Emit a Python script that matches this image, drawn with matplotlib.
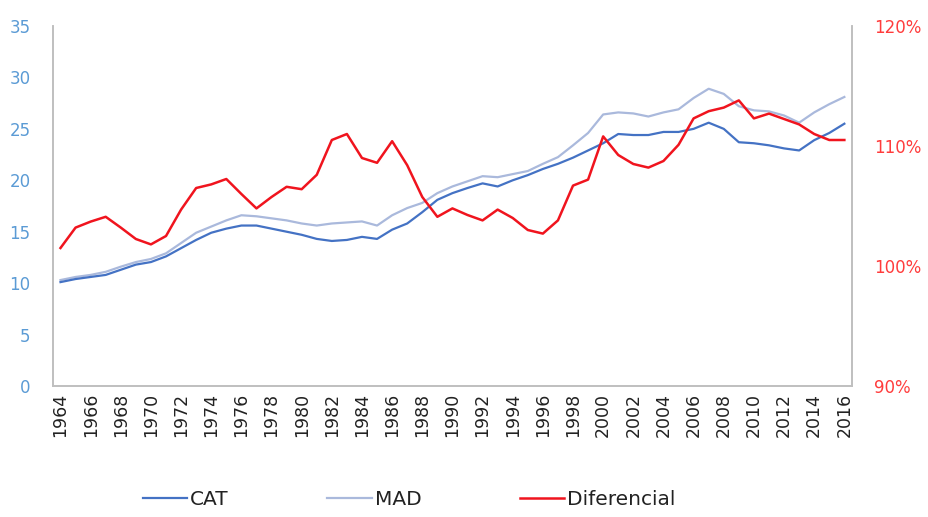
import numpy as np
import matplotlib
matplotlib.use("Agg")
import matplotlib.pyplot as plt
from matplotlib.ticker import FuncFormatter

# Data
years = list(range(1964, 2017))

cat = [10.1, 10.4, 10.6, 10.8, 11.3, 11.8, 12.05, 12.6, 13.4, 14.2,
       14.9, 15.3, 15.6, 15.6, 15.3, 15.0, 14.7, 14.3, 14.1, 14.2,
       14.5, 14.3, 15.2, 15.8, 16.9, 18.1, 18.75, 19.25, 19.7, 19.4,
       20.0, 20.5, 21.1, 21.6, 22.2, 22.9, 23.6, 24.5, 24.4, 24.4,
       24.7, 24.7, 25.0, 25.6, 25.0, 23.7, 23.6, 23.4, 23.1, 22.9,
       23.9, 24.6, 25.5]

mad = [10.3, 10.6, 10.8, 11.1, 11.6, 12.05, 12.35, 12.9, 13.9, 14.9,
       15.5, 16.1, 16.6, 16.5, 16.3, 16.1, 15.8, 15.6, 15.8, 15.9,
       16.0, 15.6, 16.6, 17.3, 17.8, 18.75, 19.4, 19.9, 20.4, 20.3,
       20.6, 20.9, 21.6, 22.25, 23.4, 24.6, 26.4, 26.6, 26.5, 26.2,
       26.6, 26.9, 28.0, 28.9, 28.4, 27.2, 26.8, 26.7, 26.3, 25.6,
       26.6, 27.4, 28.1]

# differential in %
dif = [101.5, 103.2, 103.7, 104.1, 103.2, 102.25, 101.8, 102.5, 104.7, 106.5,
       106.8, 107.25, 106.0, 104.8, 105.75, 106.6, 106.4, 107.6, 110.5, 111.0,
       109.0, 108.6, 110.4, 108.4, 105.75, 104.1, 104.8, 104.25, 103.8, 104.7,
       104.0, 103.0, 102.7, 103.8, 106.7, 107.2, 110.8, 109.25, 108.5, 108.2,
       108.75, 110.1, 112.3, 112.9, 113.2, 113.8, 112.3, 112.7, 112.25, 111.8,
       111.0, 110.5, 110.5]

c_cat = "#4472c4"
c_mad = "#aab9dc"
c_dif = "#f0141e"
c_left = "#5b9bd5"
c_right = "#ff3c3c"
c_spine = "#bfbfbf"

fig = plt.figure(figsize=(9.29, 5.17), dpi=100)
ax = fig.add_axes([0.057, 0.2534, 0.86, 0.6963])

ax.plot(years, mad, color=c_mad, lw=1.6, label="MAD")
ax.plot(years, cat, color=c_cat, lw=1.6, label="CAT")
ax.set_ylim(0, 35)
ax.set_yticks(range(0, 36, 5))
ax.set_xlim(1963.5, 2016.5)
ax.set_xticks(years[::2])
ax.set_xticklabels([str(y) for y in years[::2]], rotation=90)

ax2 = ax.twinx()
ax2.plot(years, dif, color=c_dif, lw=1.8, label="Diferencial")
ax2.set_ylim(90, 120)
ax2.set_yticks([90, 100, 110, 120])
ax2.yaxis.set_major_formatter(FuncFormatter(lambda v, p: f"{v:.0f}%"))

for a in (ax, ax2):
    a.spines["top"].set_visible(False)
    for s in ("left", "right", "bottom"):
        a.spines[s].set_color(c_spine)
        a.spines[s].set_linewidth(1.2)
    a.tick_params(length=0)

ax.tick_params(axis="y", colors=c_left, labelsize=12, pad=16)
ax.tick_params(axis="x", colors="#222222", labelsize=12.5, pad=5)
ax2.tick_params(axis="y", colors=c_right, labelsize=12, pad=16)

h1, l1 = ax.get_legend_handles_labels()
h2, l2 = ax2.get_legend_handles_labels()
handles = [h1[1], h1[0], h2[0]]
labels = [l1[1], l1[0], l2[0]]
fig.legend(handles, labels, loc="center left", bbox_to_anchor=(0.134, 0.033),
           ncol=3, frameon=False, fontsize=14.5, handlelength=2.2,
           handletextpad=0.15, columnspacing=4.9, labelcolor="#222222")

fig.savefig("out.png", dpi=100)
